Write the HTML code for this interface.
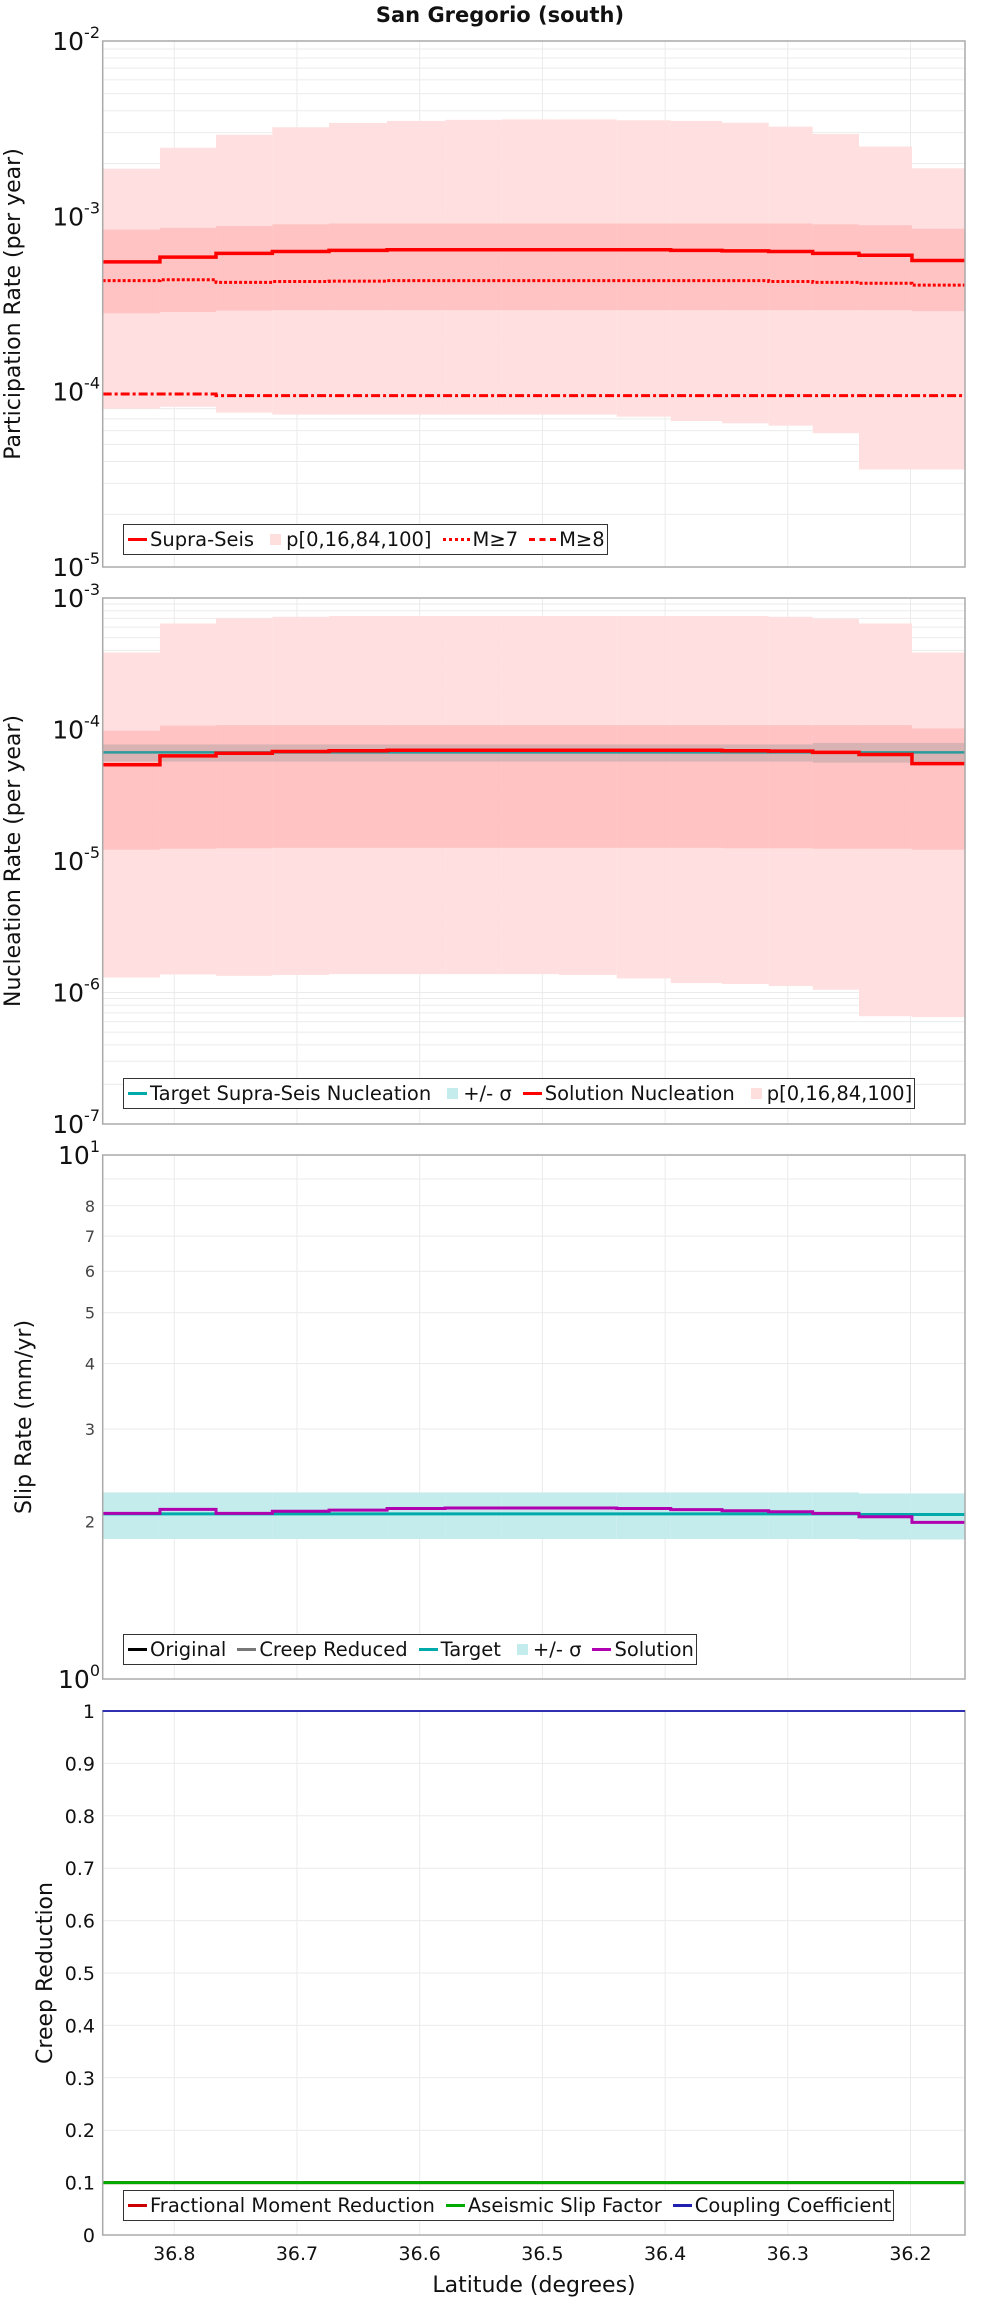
<!DOCTYPE html>
<html><head><meta charset="utf-8"><style>
html,body{margin:0;padding:0;background:#fff}
#wrap{position:relative;width:1000px;height:2300px;font-family:"DejaVu Sans","Liberation Sans",sans-serif}
.legend{position:absolute;height:29px;border:1.5px solid #333;background:#fff;display:flex;align-items:center;font-size:19.5px;color:#111;white-space:nowrap;padding:0 2px}
.sw{display:inline-block;width:19px;height:3px;margin:0 3px 0 2px}
.sq{display:inline-block;width:11px;height:11px;margin:0 5px 0 7px}
.it{margin-right:9px}
</style></head><body>
<div id="wrap">
<svg id="svg" width="1000" height="2300" xmlns="http://www.w3.org/2000/svg"></svg>

<div class="legend" style="left:123px;top:524px">
 <span class="sw" style="background:#f00"></span><span class="it">Supra-Seis</span>
 <span class="sq" style="background:#ffdede"></span><span class="it">p[0,16,84,100]</span>
 <span class="sw" style="width:27px;height:0;border-top:3px dotted #f00"></span><span class="it">M≥7</span>
 <span class="sw" style="width:27px;height:0;border-top:3px dashed #f00"></span><span>M≥8</span>
</div>

<div class="legend" style="left:123px;top:1078px">
 <span class="sw" style="background:#00aaaa"></span><span class="it">Target Supra-Seis Nucleation</span>
 <span class="sq" style="background:#c4ecec"></span><span class="it">+/- σ</span>
 <span class="sw" style="background:#f00"></span><span class="it">Solution Nucleation</span>
 <span class="sq" style="background:#ffdede"></span><span>p[0,16,84,100]</span>
</div>

<div class="legend" style="left:123px;top:1634px">
 <span class="sw" style="background:#000"></span><span class="it">Original</span>
 <span class="sw" style="background:#777"></span><span class="it">Creep Reduced</span>
 <span class="sw" style="background:#00aaaa"></span><span class="it">Target</span>
 <span class="sq" style="background:#c4ecec"></span><span class="it">+/- σ</span>
 <span class="sw" style="background:#b000b0"></span><span>Solution</span>
</div>

<div class="legend" style="left:123px;top:2190px">
 <span class="sw" style="background:#c00"></span><span class="it">Fractional Moment Reduction</span>
 <span class="sw" style="background:#00aa00"></span><span class="it">Aseismic Slip Factor</span>
 <span class="sw" style="background:#2020b0"></span><span>Coupling Coefficient</span>
</div>
</div>

<script>
// ---- data ----
const binEdges = [36.8584,36.8117,36.7660,36.7201,36.6739,36.6266,36.5793,36.5332,36.4865,36.4394,36.3954,36.3536,36.3156,36.2797,36.2420,36.1988,36.1556];
const xTicks = [36.8,36.7,36.6,36.5,36.4,36.3,36.2];
// participation
const partMax = [1.87e-3,2.46e-3,2.92e-3,3.22e-3,3.41e-3,3.50e-3,3.55e-3,3.57e-3,3.57e-3,3.53e-3,3.50e-3,3.42e-3,3.25e-3,2.95e-3,2.50e-3,1.88e-3];
const partP16 = [8.4e-4,8.6e-4,8.8e-4,9.0e-4,9.1e-4,9.1e-4,9.1e-4,9.1e-4,9.1e-4,9.1e-4,9.1e-4,9.1e-4,9.1e-4,9.0e-4,8.9e-4,8.5e-4];
const partP84 = [2.8e-4,2.85e-4,2.9e-4,2.92e-4,2.92e-4,2.92e-4,2.92e-4,2.92e-4,2.92e-4,2.92e-4,2.92e-4,2.92e-4,2.92e-4,2.92e-4,2.92e-4,2.88e-4];
const partMin = [8.0e-5,8.2e-5,7.6e-5,7.4e-5,7.4e-5,7.4e-5,7.4e-5,7.4e-5,7.4e-5,7.2e-5,6.8e-5,6.6e-5,6.4e-5,5.8e-5,3.6e-5,3.6e-5];
const partSupra = [5.5e-4,5.85e-4,6.15e-4,6.3e-4,6.4e-4,6.45e-4,6.45e-4,6.45e-4,6.45e-4,6.45e-4,6.4e-4,6.35e-4,6.3e-4,6.15e-4,6.0e-4,5.6e-4];
const partM7 = [4.3e-4,4.35e-4,4.2e-4,4.25e-4,4.27e-4,4.3e-4,4.3e-4,4.3e-4,4.3e-4,4.3e-4,4.3e-4,4.3e-4,4.25e-4,4.2e-4,4.15e-4,4.05e-4];
const partM8 = [9.7e-5,9.7e-5,9.5e-5,9.5e-5,9.5e-5,9.5e-5,9.5e-5,9.5e-5,9.5e-5,9.5e-5,9.5e-5,9.5e-5,9.5e-5,9.5e-5,9.5e-5,9.5e-5];
// nucleation
const nucMax = [3.85e-4,6.4e-4,7.0e-4,7.2e-4,7.3e-4,7.3e-4,7.3e-4,7.3e-4,7.3e-4,7.3e-4,7.3e-4,7.3e-4,7.2e-4,6.95e-4,6.4e-4,3.85e-4];
const nucP16 = [9.8e-5,1.07e-4,1.08e-4,1.08e-4,1.08e-4,1.08e-4,1.08e-4,1.08e-4,1.08e-4,1.08e-4,1.08e-4,1.08e-4,1.08e-4,1.08e-4,1.08e-4,1.02e-4];
const nucP84 = [1.22e-5,1.24e-5,1.25e-5,1.26e-5,1.26e-5,1.26e-5,1.26e-5,1.26e-5,1.26e-5,1.26e-5,1.26e-5,1.25e-5,1.25e-5,1.24e-5,1.24e-5,1.22e-5];
const nucMin = [1.30e-6,1.37e-6,1.34e-6,1.36e-6,1.38e-6,1.38e-6,1.38e-6,1.38e-6,1.36e-6,1.28e-6,1.18e-6,1.16e-6,1.12e-6,1.05e-6,6.6e-7,6.5e-7];
const nucTarget = [6.7e-5,6.7e-5,6.7e-5,6.7e-5,6.7e-5,6.7e-5,6.7e-5,6.7e-5,6.7e-5,6.7e-5,6.7e-5,6.7e-5,6.7e-5,6.7e-5,6.7e-5,6.7e-5];
const nucSigLo = [5.7e-5,5.7e-5,5.7e-5,5.7e-5,5.7e-5,5.7e-5,5.7e-5,5.7e-5,5.7e-5,5.7e-5,5.7e-5,5.7e-5,5.7e-5,5.6e-5,5.6e-5,5.6e-5];
const nucSigHi = [7.7e-5,7.7e-5,7.7e-5,7.7e-5,7.7e-5,7.7e-5,7.7e-5,7.7e-5,7.7e-5,7.7e-5,7.7e-5,7.7e-5,7.7e-5,7.9e-5,7.9e-5,7.9e-5];
const nucSol = [5.4e-5,6.3e-5,6.6e-5,6.8e-5,6.9e-5,6.95e-5,6.95e-5,6.95e-5,6.95e-5,6.95e-5,6.95e-5,6.9e-5,6.85e-5,6.7e-5,6.45e-5,5.5e-5];
// slip
const slipTarget = [2.066,2.066,2.066,2.066,2.066,2.066,2.066,2.066,2.066,2.066,2.066,2.066,2.066,2.066,2.06,2.06];
const slipSigLo = [1.85,1.85,1.85,1.85,1.85,1.85,1.85,1.85,1.85,1.85,1.85,1.85,1.85,1.85,1.846,1.846];
const slipSigHi = [2.27,2.27,2.27,2.27,2.27,2.27,2.27,2.27,2.27,2.27,2.27,2.27,2.27,2.27,2.26,2.26];
const slipSol = [2.07,2.107,2.07,2.09,2.10,2.115,2.12,2.12,2.12,2.115,2.105,2.095,2.085,2.07,2.04,1.99];
// creep
const creepFMR = [0.1,0.1,0.1,0.1,0.1,0.1,0.1,0.1,0.1,0.1,0.1,0.1,0.1,0.1,0.1,0.1];
const creepASF = [0.1,0.1,0.1,0.1,0.1,0.1,0.1,0.1,0.1,0.1,0.1,0.1,0.1,0.1,0.1,0.1];
const creepCC = [1,1,1,1,1,1,1,1,1,1,1,1,1,1,1,1];
const creepTicks = [0,0.1,0.2,0.3,0.4,0.5,0.6,0.7,0.8,0.9,1];
const slipMinorLabels = [2,3,4,5,6,7,8];

// ---- layout ----
const NS = 'http://www.w3.org/2000/svg';
const svg = document.getElementById('svg');
const L = 102.7, R = 965;
const x = lat => 174.3 + (36.8 - lat) * 1227;
function mk(tag, attrs, parent){
  const e = document.createElementNS(NS, tag);
  for (const k in attrs) e.setAttribute(k, attrs[k]);
  (parent || svg).appendChild(e);
  return e;
}
function logY(top, bot, lo, hi){ return v => bot - (Math.log10(v) - lo) / (hi - lo) * (bot - top); }
function linY(top, bot, lo, hi){ return v => bot - (v - lo) / (hi - lo) * (bot - top); }

function frame(top, bot, name){
  const g = mk('g', {});
  
  
  xTicks.forEach(t => {
    const ln = mk('line', {x1:x(t), x2:x(t), y1:top, y2:bot, stroke:'#ebebeb', 'stroke-width':1}, g);
    
    
  });
  return g;
}
function hgrid(g, y, name){
  const ln = mk('line', {x1:L, x2:R, y1:y, y2:y, stroke:'#ebebeb', 'stroke-width':1}, g);
  
  
}
function border(top, bot, name){
  const r = mk('rect', {x:L, y:top, width:R-L, height:bot-top, fill:'none', stroke:'#aaa', 'stroke-width':1.5});
  
  
}
function band(lo, hi, Y, fill, name){
  for (let i = 0; i < lo.length; i++){
    const y1 = Y(hi[i]), y2 = Y(lo[i]);
    const r = mk('rect', {x:x(binEdges[i]), y:y1, width:x(binEdges[i+1]) - x(binEdges[i]), height:y2 - y1, fill:fill});
    
    
  }
}
function step(vals, Y, color, w, dash, name){
  let d = 'M' + x(binEdges[0]) + ' ' + Y(vals[0]);
  for (let i = 0; i < vals.length; i++){
    if (i > 0) d += ' V' + Y(vals[i]);
    d += ' H' + x(binEdges[i+1]);
  }
  const p = mk('path', {d:d, fill:'none', stroke:color, 'stroke-width':w});
  if (dash) p.setAttribute('stroke-dasharray', dash);
  
  
}
function pow10Label(yy, exp, name){
  const t = mk('text', {x:100, y:yy + 9, 'text-anchor':'end', 'font-size':25, fill:'#111'});
  
  
  const a = mk('tspan', {}, t); a.textContent = '10';
  const b = mk('tspan', {dy:-12, 'font-size':16}, t); b.textContent = String(exp);
}
function yTitle(cx, cy, text, name){
  const t = mk('text', {x:cx, y:cy, 'text-anchor':'middle', 'font-size':22, fill:'#111', transform:'rotate(-90 ' + cx + ' ' + cy + ')'});
  t.textContent = text;
  
  
}
function logPanel(top, bot, lo, hi, name){
  const g = frame(top, bot, name);
  for (let e = lo; e < hi; e++) for (let m = 1; m <= 9; m++){
    const v = Math.log10(m * Math.pow(10, e));
    if (m > 1) hgrid(g, bot - (v - lo) / (hi - lo) * (bot - top), 'y-minor-gridline');
  }
  for (let e = lo + 1; e < hi; e++) hgrid(g, bot - (e - lo) / (hi - lo) * (bot - top), 'y-major-gridline');
}

// title
const title = mk('text', {x:500, y:22, 'text-anchor':'middle', 'font-size':21, 'font-weight':'bold', fill:'#111'});
title.textContent = 'San Gregorio (south)';



// panel 1
const P1 = {top:41, bot:567};
logPanel(P1.top, P1.bot, -5, -2, 'participation');
const Y1 = logY(P1.top, P1.bot, -5, -2);
band(partMin, partMax, Y1, '#ffdfdf', 'participation-p0-100-band');
band(partP84, partP16, Y1, 'rgba(255,150,150,0.38)', 'participation-p16-84-band');
step(partM8, Y1, '#f00', 3, '9,3,3,3', 'participation-m8-line');
step(partM7, Y1, '#f00', 3, '3,2', 'participation-m7-line');
step(partSupra, Y1, '#f00', 3.5, null, 'participation-supra-seis-line');
border(P1.top, P1.bot, 'participation');
[-2,-3,-4,-5].forEach(e => pow10Label(Y1(Math.pow(10, e)), e, 'participation-y-tick'));
yTitle(20, (P1.top + P1.bot) / 2, 'Participation Rate (per year)', 'participation-y-axis-title');

// panel 2
const P2 = {top:598, bot:1124};
logPanel(P2.top, P2.bot, -7, -3, 'nucleation');
const Y2 = logY(P2.top, P2.bot, -7, -3);
band(nucMin, nucMax, Y2, '#ffdfdf', 'nucleation-p0-100-band');
band(nucP84, nucP16, Y2, 'rgba(255,150,150,0.38)', 'nucleation-p16-84-band');
band(nucSigLo, nucSigHi, Y2, 'rgba(120,140,140,0.28)', 'nucleation-sigma-band');
step(nucTarget, Y2, '#2a9a9a', 2.5, null, 'nucleation-target-line');
step(nucSol, Y2, '#f00', 3.5, null, 'nucleation-solution-line');
border(P2.top, P2.bot, 'nucleation');
[-3,-4,-5,-6,-7].forEach(e => pow10Label(Y2(Math.pow(10, e)), e, 'nucleation-y-tick'));
yTitle(20, (P2.top + P2.bot) / 2, 'Nucleation Rate (per year)', 'nucleation-y-axis-title');

// panel 3
const P3 = {top:1155, bot:1679};
logPanel(P3.top, P3.bot, 0, 1, 'slip');
const Y3 = logY(P3.top, P3.bot, 0, 1);
band(slipSigLo, slipSigHi, Y3, '#c4ecec', 'slip-sigma-band');
step(slipTarget, Y3, '#00aaaa', 3, null, 'slip-target-line');
step(slipSol, Y3, '#b000b0', 3, null, 'slip-solution-line');
border(P3.top, P3.bot, 'slip');
pow10Label(Y3(10), 1, 'slip-y-tick');
pow10Label(Y3(1), 0, 'slip-y-tick');
slipMinorLabels.forEach(v => {
  const t = mk('text', {x:90, y:Y3(v) + 6, 'text-anchor':'middle', 'font-size':16, fill:'#444'});
  t.textContent = String(v);
  
  
});
yTitle(31, (P3.top + P3.bot) / 2, 'Slip Rate (mm/yr)', 'slip-y-axis-title');

// panel 4
const P4 = {top:1711, bot:2235};
const g4 = frame(P4.top, P4.bot, 'creep');
const Y4 = linY(P4.top, P4.bot, 0, 1);
creepTicks.forEach(v => { if (v > 0 && v < 1) hgrid(g4, Y4(v), 'y-gridline'); });
step(creepFMR, Y4, '#c00', 3, null, 'creep-fmr-line');
step(creepASF, Y4, '#00aa00', 3, null, 'creep-asf-line');
border(P4.top, P4.bot, 'creep');
step(creepCC, Y4, '#3030b0', 2, null, 'creep-cc-line');
creepTicks.forEach(v => {
  const t = mk('text', {x:95, y:Y4(v) + 7, 'text-anchor':'end', 'font-size':19, fill:'#111'});
  t.textContent = String(v);
  
  
});
yTitle(52, (P4.top + P4.bot) / 2, 'Creep Reduction', 'creep-y-axis-title');

// x axis
xTicks.forEach(t => {
  const e = mk('text', {x:x(t), y:2260, 'text-anchor':'middle', 'font-size':19, fill:'#111'});
  e.textContent = t.toFixed(1);
  
  
});
const xt = mk('text', {x:534, y:2292, 'text-anchor':'middle', 'font-size':22, fill:'#111'});
xt.textContent = 'Latitude (degrees)';


</script>
</body></html>
